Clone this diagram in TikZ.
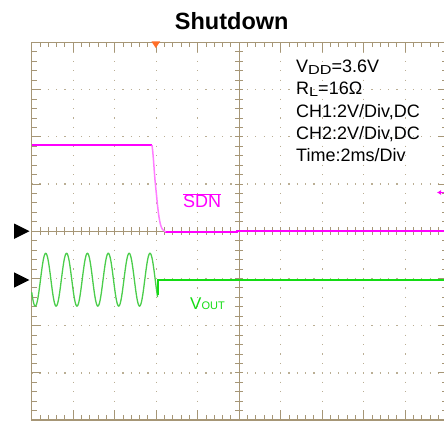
\documentclass[tikz,border=0pt]{standalone}
\usepackage{fontspec}
\setmainfont{Liberation Sans}
\usetikzlibrary{arrows.meta}
\definecolor{scopegrid}{RGB}{166,150,118}
\definecolor{scopedot}{RGB}{186,174,148}
\definecolor{chone}{RGB}{255,0,255}
\definecolor{chonefall}{RGB}{255,125,255}
\definecolor{chtwo}{RGB}{20,220,20}
\definecolor{chtwosine}{RGB}{75,205,75}
\definecolor{trigmark}{RGB}{255,110,40}
\newcommand\lowsub[1]{\raisebox{-1.8pt}{\scalebox{1.25}[1]{\fontsize{13}{13}\selectfont #1}}}

\begin{document}
\begin{tikzpicture}[x=1pt,y=-1pt]
\tikzstyle{border} = [draw=scopegrid, line width=1.3pt]
\tikzstyle{tick} = [draw=scopegrid, line width=1pt]
\tikzstyle{vdots} = [draw=scopedot, line width=1.2pt, dash pattern=on 1.2pt off 8.24pt, dash phase=0.6pt]
\tikzstyle{hdots} = [draw=scopedot, line width=1.2pt, dash pattern=on 1.2pt off 7.1pt, dash phase=0.6pt]
\tikzstyle{sdntrace} = [chone, line width=2pt]
\tikzstyle{sdnfall} = [chonefall, line width=1.5pt]
\tikzstyle{vouttrace} = [chtwo, line width=1.8pt]
\tikzstyle{sinetrace} = [chtwosine, line width=1.3pt]
\tikzstyle{title} = [anchor=base, inner sep=0pt, font=\bfseries\fontsize{23.5}{28}\selectfont]
\tikzstyle{info} = [anchor=base west, inner sep=0pt, font=\fontsize{18}{22}\selectfont]
\tikzstyle{chlabel} = [anchor=base west, inner sep=0pt, font=\fontsize{18}{22}\selectfont]

\useasboundingbox (0,0) rectangle (444,422);

% dotted grid
\foreach \k in {1,2,3,4,6,7,8,9}
   \path[vdots] ({31.7+41.5*\k},42.5) -- ({31.7+41.5*\k},420);
\foreach \j in {1,2,3,5,6,7}
   \path[hdots] (31.7,{42.5+47.2*\j}) -- (447,{42.5+47.2*\j});

% ticks
\foreach \i in {1,...,49}
{
   \path[tick] ({31.7+8.3*\i},42.5) -- ++(0,5);
   \path[tick] ({31.7+8.3*\i},420) -- ++(0,-5);
   \path[tick] ({31.7+8.3*\i},227.2) -- ++(0,8);
}
\foreach \k in {1,...,9}
{
   \path[tick] ({31.7+41.5*\k},42.5) -- ++(0,10);
   \path[tick] ({31.7+41.5*\k},420) -- ++(0,-10);
}
\foreach \i in {1,...,39}
{
   \path[tick] (31.7,{42.5+9.44*\i}) -- ++(5,0);
   \path[tick] (447,{42.5+9.44*\i}) -- ++(-5,0);
   \path[tick] (235.2,{42.5+9.44*\i}) -- ++(8,0);
}
\foreach \j in {1,...,7}
{
   \path[tick] (31.7,{42.5+47.2*\j}) -- ++(9,0);
   \path[tick] (447,{42.5+47.2*\j}) -- ++(-9,0);
}

% axes and border
\path[tick] (239.2,42.5) -- (239.2,420);
\path[tick] (31.7,231.2) -- (447,231.2);
\path[border] (31.7,42.5) rectangle (447,420);

% channel 1
\draw[sdntrace] (32.4,145.2) -- (152.3,145.2) (165.3,232) -- (237,232) -- (237,231) -- (447,231);
\draw[sdnfall] plot[smooth] coordinates {(152,145.2) (152.7,151) (153.7,163) (155,180) (156.5,195) (157.6,206) (159,217) (160.6,225) (162.6,229.5) (165.8,231.9)};

% channel 2
\draw[sinetrace] plot[domain=31.7:157.6, samples=260] (\x,{279.7-26.4*cos((\x-45.7)*17.258)});
\draw[vouttrace] (157.6,295) -- (157.6,280) -- (447,280);

% markers
\fill[black] (14,223.5) -- (29.5,231.2) -- (14,239) -- cycle;
\fill[black] (14,272.3) -- (29.5,280) -- (14,287.7) -- cycle;
\fill[trigmark] (151.5,41.5) -- (160.1,41.5) -- (155.8,48) -- cycle;
\draw[chone, line width=1.3pt, -{Latex[length=4pt,width=5pt]}] (446,192.5) -- (437,192.5);

% labels
\node[title] (TITLE) at (231.7,29.3) {Shutdown};
\foreach \txt [count=\n] in {V\lowsub{DD}=3.6V, R\lowsub{L}=16Ω, {CH1:2V/Div,DC}, {CH2:2V/Div,DC}, Time:2ms/Div}
{
   \node[info] (INFO\n) at (296,{72.7+22.25*(\n-1)}) {\txt};
}
\node[chlabel, text=chone] (SDN) at (183,207.7) {$\overline{\mbox{SDN}}$};
\node[chlabel, text=chtwo] (VOUT) at (190,309) {{\fontsize{17}{17}\selectfont V}{\fontsize{11}{11}\selectfont OUT}};

\end{tikzpicture}
\end{document}
